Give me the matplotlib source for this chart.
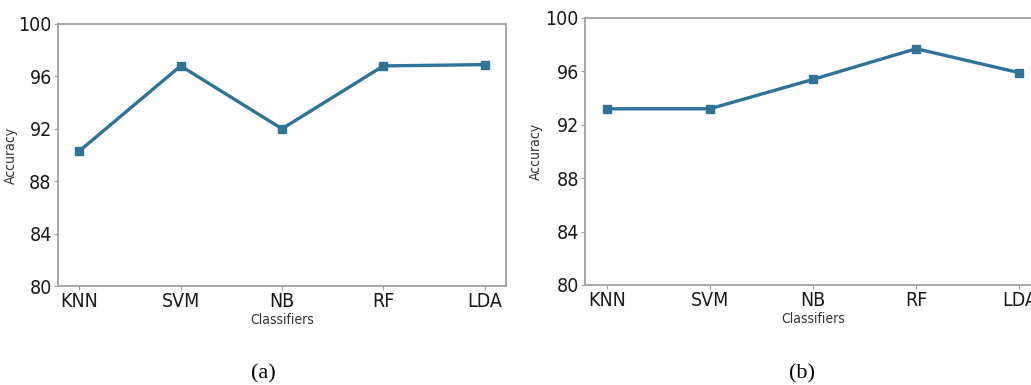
import matplotlib
matplotlib.use('Agg')
import matplotlib.pyplot as plt

classifiers = ['KNN', 'SVM', 'NB', 'RF', 'LDA']
acc_a = [90.3, 96.8, 92.0, 96.8, 96.9]
acc_b = [93.2, 93.2, 95.4, 97.7, 95.9]
yticks = [80, 84, 88, 92, 96, 100]
captions = ['(a)', '(b)']

LINE = '#2f7398'
SPINE = '#a0a0a0'
W, H = 1031, 385

fig = plt.figure(figsize=(W / 100, H / 100), dpi=100, facecolor='white')

# axes boxes in pixels (left, top, right, bottom); panel (b) runs past the right edge
boxes = [(58, 24, 506, 286), (585, 18, 1041, 285)]
label_x = [18, 543]      # centre of the "Accuracy" label, pixels
caption_x = [263, 802]

for i, ((l, t, r, b), acc) in enumerate(zip(boxes, [acc_a, acc_b])):
    ax = fig.add_axes([l / W, 1 - b / H, (r - l) / W, (b - t) / H])
    x = list(range(len(classifiers)))
    ax.plot(x, acc, color=LINE, lw=2.4, marker='s', ms=5.5, mfc=LINE, mec=LINE)
    ax.set_xlim(-0.21, 4.21)
    ax.set_ylim(80, 100)
    ax.set_yticks(yticks)
    ax.set_xticks(x)
    ax.set_xticklabels(classifiers)
    for lab in ax.get_xticklabels() + ax.get_yticklabels():
        lab.set_fontsize(14)
        lab.set_fontstretch('condensed')
        lab.set_color('#1a1a1a')
    ax.tick_params(length=3, width=0.8, color=SPINE, pad=1.5)
    for sp in ax.spines.values():
        sp.set_color(SPINE)
        sp.set_linewidth(1.3)
    ax.set_ylabel('Accuracy', fontsize=10, color='#333333', fontstretch='condensed')
    ax.yaxis.set_label_coords((label_x[i] - l) / (r - l), 0.5)
    ax.set_xlabel('Classifiers', fontsize=10, color='#333333', labelpad=1,
                  fontstretch='condensed')
    fig.text(caption_x[i] / W, 1 - 374 / H, captions[i],
             ha='center', va='center', fontsize=16, family='Liberation Serif')

fig.savefig('out.png', dpi=100, facecolor='white')
